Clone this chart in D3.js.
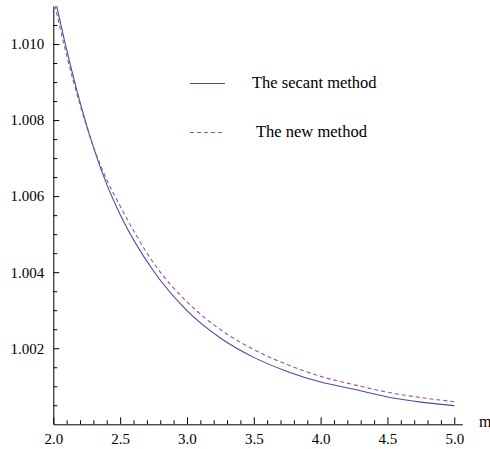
<!DOCTYPE html>
<html>
<head>
<meta charset="utf-8">
<script src="https://cdn.jsdelivr.net/npm/d3@7"></script>
<style>
  html, body { margin: 0; padding: 0; background: #fff; }
  svg { display: block; }
  text { font-family: "Liberation Serif", "Times New Roman", serif; fill: #000; }
</style>
</head>
<body>
<svg id="chart" width="490" height="449"></svg>
<script>
// m values at which both ratios are tabulated
const mValues = [2.0, 2.1, 2.2, 2.3, 2.4, 2.5, 2.75, 3.0, 3.25, 3.5, 3.75, 4.0, 4.25, 4.5, 4.75, 5.0];
// The secant method
const secantValues = [1.01140, 1.00985, 1.00847, 1.00729, 1.00631, 1.00552, 1.00403, 1.00299, 1.00227,
                      1.00176, 1.00139, 1.00111, 1.00092, 1.00072, 1.000584, 1.00049];
// The new method
const newValues = [1.01120, 1.00970, 1.00840, 1.00730, 1.00643, 1.00574, 1.004245, 1.00322, 1.00249,
                   1.001965, 1.00157, 1.00126, 1.00104, 1.000845, 1.000704, 1.000595];

const xMajorTicks = [2.0, 2.5, 3.0, 3.5, 4.0, 4.5, 5.0];
const yMajorTicks = [1.002, 1.004, 1.006, 1.008, 1.010];
const seriesNames = ["The secant method", "The new method"];

const serif = '"Liberation Serif", "Times New Roman", serif';
const svg = d3.select("#chart");

const x = d3.scaleLinear().domain([2, 5.06]).range([53.3, 462.3]);
const y = d3.scaleLinear().domain([1.000, 1.011]).range([424.3, 6]);

const xMinor = d3.range(21, 51).map(d => d / 10).filter(d => !xMajorTicks.some(t => Math.abs(t - d) < 1e-9));
const yMinor = d3.range(1, 22).map(d => 1 + d * 0.0005).filter(d => !yMajorTicks.some(t => Math.abs(t - d) < 1e-9));

// clip the curves to the plotting region
svg.append("clipPath").attr("id", "plotClip")
  .append("rect").attr("x", x(2)).attr("y", y(1.011)).attr("width", x(5.06) - x(2)).attr("height", y(1.0) - y(1.011));

// axes with inward ticks
const styleAxis = g => {
  g.attr("font-family", null).attr("font-size", null);
  g.select(".domain").attr("stroke", "#000").attr("stroke-width", 1);
  g.selectAll(".tick line").attr("stroke", "#000").attr("stroke-width", 1);
  g.selectAll("text").style("font-size", "15px").style("font-family", serif);
};

svg.append("g").attr("transform", `translate(0,${y(1.0)})`)
  .call(d3.axisBottom(x).tickValues(xMinor).tickSizeInner(-4).tickSizeOuter(0).tickFormat(""))
  .call(g => g.select(".domain").remove())
  .call(styleAxis);
svg.append("g").attr("transform", `translate(0,${y(1.0)})`)
  .call(d3.axisBottom(x).tickValues(xMajorTicks).tickSizeInner(-7).tickSizeOuter(0)
    .tickPadding(13).tickFormat(d3.format(".1f")))
  .call(styleAxis)
  .call(g => g.selectAll("text").attr("dy", "0.71em").attr("y", 9));

svg.append("g").attr("transform", `translate(${x(2)},0)`)
  .call(d3.axisLeft(y).tickValues(yMinor).tickSizeInner(-4).tickSizeOuter(0).tickFormat(""))
  .call(g => g.select(".domain").remove())
  .call(styleAxis);
svg.append("g").attr("transform", `translate(${x(2)},0)`)
  .call(d3.axisLeft(y).tickValues(yMajorTicks).tickSizeInner(-6).tickSizeOuter(0)
    .tickPadding(9).tickFormat(d3.format(".3f")))
  .call(styleAxis);

// axis label
svg.append("text").attr("x", 479).attr("y", 427)
  .style("font-size", "16px").style("font-family", serif).text("m");

// curves
const line = vals => d3.line()
  .x((d, i) => x(mValues[i]))
  .y(d => y(d))
  .curve(d3.curveMonotoneX)(vals);

const colors = ["#4a4aa8", "#a8507e"];
const dashes = [null, "4,3"];

[secantValues, newValues].forEach((vals, i) => {
  svg.append("path")
    .attr("d", line(vals))
    .attr("clip-path", "url(#plotClip)")
    .attr("fill", "none")
    .attr("stroke", colors[i])
    .attr("stroke-width", 1.1)
    .attr("stroke-dasharray", dashes[i]);
});

// legend
const legendY = [83.5, 132.5];
const legendTextX = [252, 256];
seriesNames.forEach((name, i) => {
  svg.append("line")
    .attr("x1", 190).attr("x2", 225).attr("y1", legendY[i]).attr("y2", legendY[i])
    .attr("stroke", colors[i]).attr("stroke-width", 1.1)
    .attr("stroke-dasharray", dashes[i]);
  svg.append("text")
    .attr("x", legendTextX[i]).attr("y", legendY[i] + 4)
    .style("font-size", "16.5px").style("font-family", serif)
    .text(name);
});
</script>
</body>
</html>
